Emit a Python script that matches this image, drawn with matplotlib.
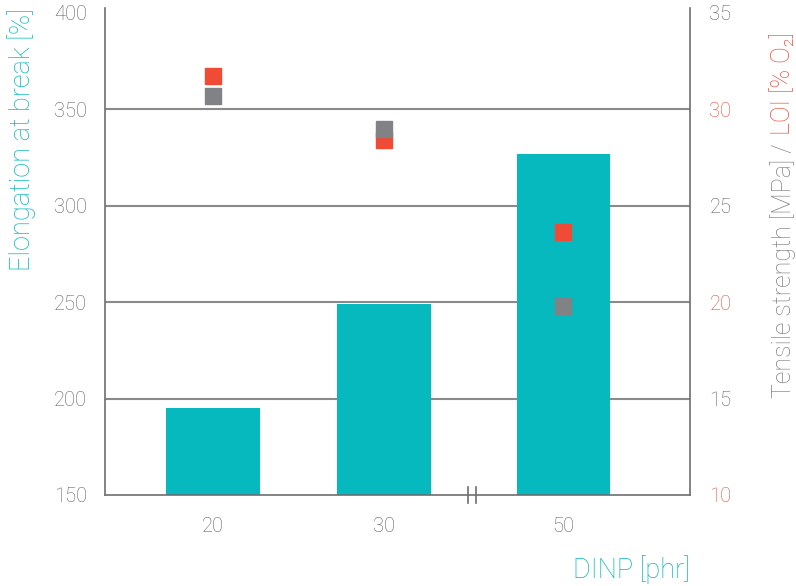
import matplotlib.pyplot as plt
from matplotlib.lines import Line2D

plt.rcParams['font.family'] = ['Roboto', 'DejaVu Sans']
plt.rcParams['font.weight'] = 'light'

TEAL = "#05b9be"
RED = "#f04b37"
GRAY = "#808285"
TEXT_GRAY = "#606163"
LINE_GRAY = "#8a8a8a"

# data
categories = ["20", "30", "50"]
x_pos = [0, 1, 2.05]
elongation = [195, 249, 327]
tensile = [30.7, 29.0, 19.8]
loi = [31.7, 28.4, 23.65]

right_ticks = [10, 15, 20, 25, 30, 35]
right_tick_colors = [RED, TEXT_GRAY, RED, TEXT_GRAY, RED, TEXT_GRAY]

fig = plt.figure(figsize=(7.96, 5.86), dpi=100)
ax = fig.add_axes([105 / 796, 1 - 495 / 586, 585 / 796, 487 / 586])

ax.bar(x_pos, elongation, width=0.545, color=TEAL, zorder=2)
ax.set_ylim(150, 402.5)
ax.set_xlim(-0.632, 2.79)
ax.set_yticks([150, 200, 250, 300, 350, 400])
for y in [200, 250, 300, 350]:
    ax.axhline(y, color=LINE_GRAY, lw=1.5, zorder=1)

ax.set_xticks(x_pos)
ax.set_xticklabels(categories)
ax.tick_params(axis='both', length=0, labelsize=14.5, labelcolor=TEXT_GRAY, pad=13)
ax.tick_params(axis='x', pad=16)
for side in ['top', 'right']:
    ax.spines[side].set_visible(False)
for side in ['left', 'bottom']:
    ax.spines[side].set_color("#6d6e71")
    ax.spines[side].set_linewidth(1.2)

fig.text(22 / 796, 1 - 8 / 586, "Elongation at break [%]", rotation=90, color=TEAL,
         fontsize=19.5, ha='center', va='top')
fig.text(690 / 796, 1 - 570 / 586, "DINP [phr]", color=TEAL,
         fontsize=19.5, ha='right', va='center')

# axis break mark
for dx in [-0.025, 0.025]:
    ax.add_line(Line2D([1.515 + dx, 1.515 + dx], [146, 154], color="#6d6e71", lw=1.2, clip_on=False, zorder=5))

ax2 = ax.twinx()
ax2.set_ylim(10, 35.25)
ax2.set_yticks(right_ticks)
ax2.tick_params(axis='y', length=0, labelsize=14.5, pad=14)
for lab, c in zip(ax2.get_yticklabels(), right_tick_colors):
    lab.set_color(c)
for side in ['top', 'left', 'bottom']:
    ax2.spines[side].set_visible(False)
ax2.spines['right'].set_color("#6d6e71")
ax2.spines['right'].set_linewidth(1.2)

ax2.plot(x_pos, loi, 's', color=RED, markersize=11, zorder=3)
ax2.plot(x_pos, tensile, 's', color=GRAY, markersize=11, zorder=4)

# two-colour right axis label: gray part first, red part stacked above it
t1 = fig.text(783 / 796, 1 - 398 / 586, "Tensile strength [MPa] /", rotation=90,
              color=GRAY, fontsize=18, ha='center', va='bottom')
fig.canvas.draw()
top_px = t1.get_window_extent().y1
fig.text(783 / 796, (top_px + 8) / fig.bbox.height, "LOI [% O₂]", rotation=90,
         color=RED, fontsize=18, ha='center', va='bottom')

plt.savefig("out.png", dpi=100)
